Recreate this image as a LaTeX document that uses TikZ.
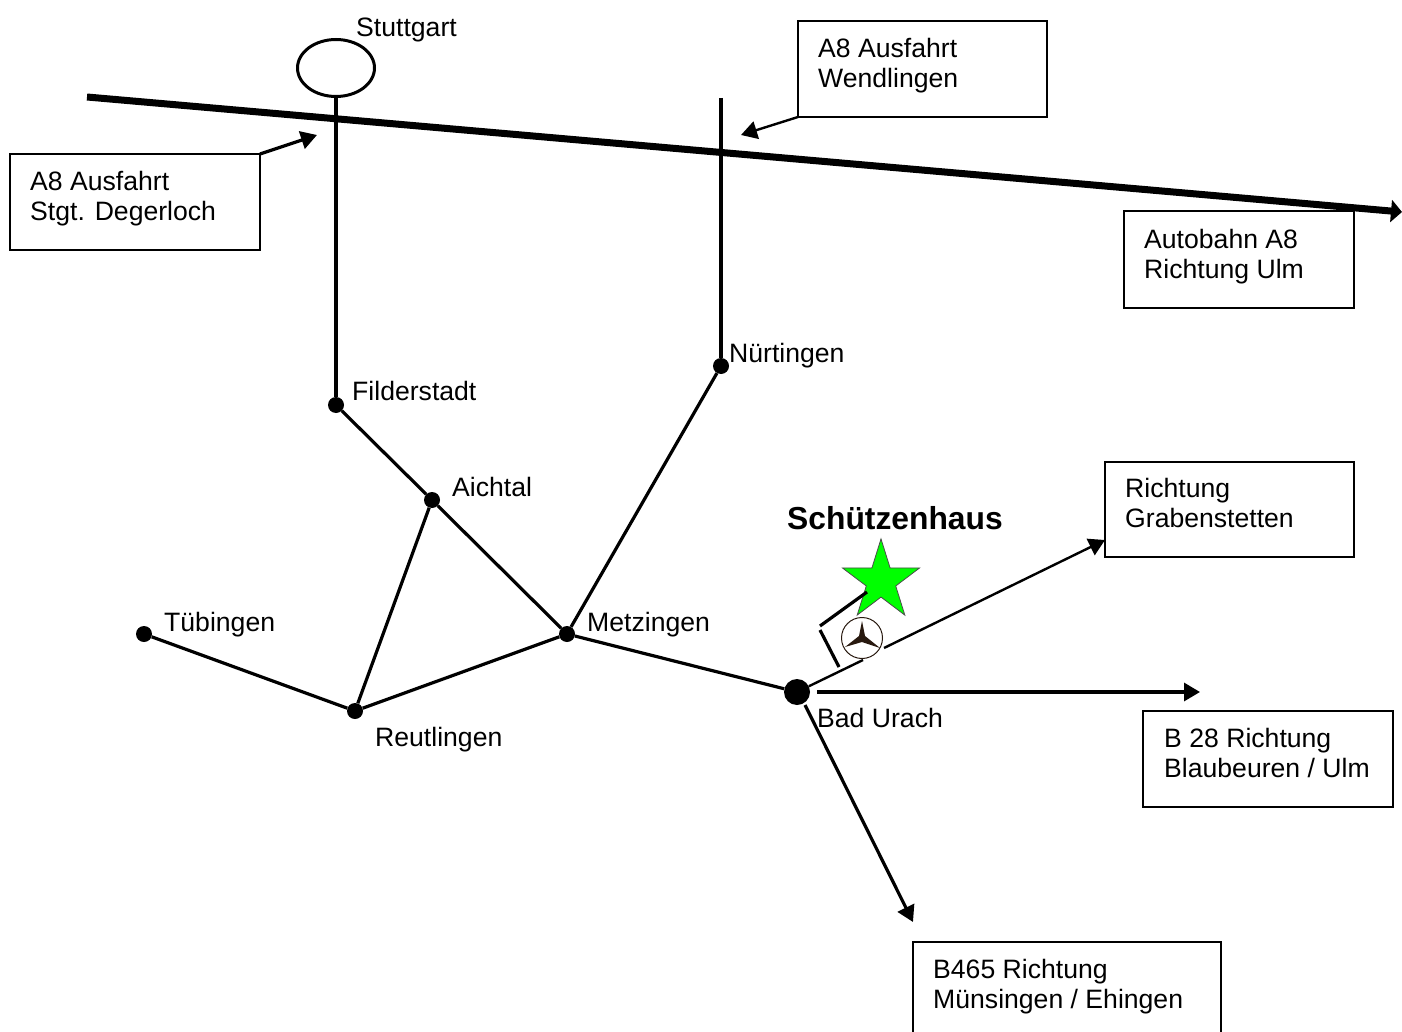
\documentclass[tikz,border=0pt]{standalone}
\usepackage{fontspec}
\setmainfont{Liberation Sans}
\usetikzlibrary{shapes.geometric,arrows.meta}
\definecolor{benz}{RGB}{40,25,15}
\tikzset{
  x=1pt,y=-1pt,
  boxn/.style={draw=black,line width=2pt,inner sep=0pt,anchor=north west},
  lab/.style={anchor=west,inner sep=0pt,align=left,font=\fontsize{26.6}{30}\selectfont},
  road/.style={draw=black,line width=3.2pt},
  thinroad/.style={draw=black,line width=2.4pt},
  tip/.style={-{Triangle[length=16pt,width=18pt]}},
  dot/.style={circle,fill=black,inner sep=0pt,minimum size=16pt},
}
\begin{document}
\begin{tikzpicture}
\useasboundingbox (0,0) rectangle (1402,1032);
% boxes
\node[boxn,minimum width=249pt,minimum height=96pt] (bw) at (797.3,20.3) {};
\node[boxn,minimum width=250pt,minimum height=96pt] (bd) at (9.3,153.3) {};
\node[boxn,minimum width=230pt,minimum height=97pt] (ba) at (1123.3,210.3) {};
\node[boxn,minimum width=249pt,minimum height=95pt] (bg) at (1104.3,461.3) {};
\node[boxn,minimum width=250pt,minimum height=96pt] (bb) at (1142.3,710.3) {};
\node[boxn,minimum width=308pt,minimum height=110pt] (bm) at (912.3,941.3) {};
\node[lab] (tw) at (818,66) {A8 Ausfahrt\\Wendlingen};
\node[lab] (td) at (30,199) {A8 Ausfahrt\\Stgt. Degerloch};
\node[lab] (ta) at (1144,257) {Autobahn A8\\Richtung Ulm};
\node[lab] (tg) at (1125,503) {Richtung\\Grabenstetten};
\node[lab] (tb) at (1164,753) {B 28 Richtung\\Blaubeuren / Ulm};
\node[lab] (tm) at (933,987) {B465 Richtung\\Münsingen / Ehingen};
% places
\node[draw=black,line width=3pt,ellipse,minimum width=77pt,minimum height=57pt,inner sep=0pt] (stu) at (336,68) {};
\node[dot] (fil) at (336,405) {};
\node[dot] (aic) at (432,500) {};
\node[dot] (met) at (567,634) {};
\node[dot] (reu) at (355,711) {};
\node[dot] (tue) at (144,634) {};
\node[dot] (nue) at (721,366) {};
\node[circle,fill=black,inner sep=0pt,minimum size=26pt] (bad) at (797,692) {};
\node[lab] (l1) at (356,30) {Stuttgart};
\node[lab] (l2) at (352,391) {Filderstadt};
\node[lab] (l3) at (452,487) {Aichtal};
\node[lab] (l4) at (729,356) {Nürtingen};
\node[lab] (l5) at (587,625) {Metzingen};
\node[lab] (l6) at (164,625) {Tübingen};
\node[lab] (l7) at (375,740) {Reutlingen};
\node[lab] (l8) at (817,718) {Bad Urach};
\node[lab,font=\bfseries\fontsize{31.8}{36}\selectfont] (l9) at (787,518) {Schützenhaus};
% free ends
\coordinate (aw) at (87,97);
\coordinate (ae) at (1402,212);
\coordinate (nt) at (721,98);
\coordinate (p1) at (260,154);
\coordinate (p2) at (317,135);
\coordinate (p3) at (798,117);
\coordinate (p4) at (741,135);
\coordinate (g1) at (863,660);
\coordinate (g2) at (884,648);
\coordinate (g3) at (1105,540);
\coordinate (u1) at (817,692);
\coordinate (u2) at (1200,692);
\coordinate (u3) at (805,705);
\coordinate (u4) at (913,922);
\coordinate (k1) at (867,592);
\coordinate (k2) at (820,626);
\coordinate (k3) at (820,630);
\coordinate (k4) at (839,667);
% roads
\draw[draw=black,line width=7pt,-{Triangle[length=11pt,width=22pt]}] (aw) -- (ae);
\draw[road] (stu) -- (fil);
\draw[road] (nt) -- (nue);
\draw[road] (fil) -- (aic);
\draw[road] (aic) -- (met);
\draw[road] (aic) -- (reu);
\draw[road] (tue) -- (reu);
\draw[road] (reu) -- (met);
\draw[road] (met) -- (bad);
\draw[road] (nue) -- (met);
\draw[road,tip] (p1) -- (p2);
\draw[thinroad,tip] (p3) -- (p4);
\draw[thinroad] (bad) -- (g1);
\draw[thinroad,tip] (g2) -- (g3);
\draw[road,tip] (u1) -- (u2);
\draw[road,tip] (u3) -- (u4);
% star
\begin{scope}[shift={(881,581)},yscale=1.04]
\node[star,star points=5,star point ratio=2.618,fill={rgb,255:red,0;green,255;blue,0},draw=black!70,line width=.8pt,inner sep=0pt,minimum size=81pt,transform shape] (sch) at (0,0) {};
\end{scope}
\draw[road] (k1) -- (k2);
\draw[road] (k3) -- (k4);
% logo
\node[circle,draw=benz,line width=1pt,fill=white,inner sep=0pt,minimum size=41pt] (mb) at (862,638) {};
\fill[benz] (862,621) -- (865,636) -- (880,648) -- (862,642) -- (845,647) -- (859,636) -- cycle;
\end{tikzpicture}
\end{document}
